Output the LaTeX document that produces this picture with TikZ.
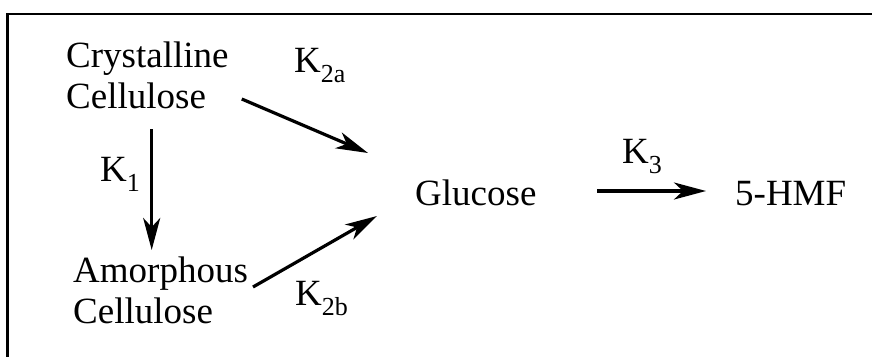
\documentclass[tikz,border=0pt]{standalone}
\usepackage{fontspec}
\setmainfont{Liberation Serif}
\usetikzlibrary{arrows.meta}
\newcommand\ksub[1]{K\raisebox{-0.28em}{\fontsize{26}{26}\selectfont #1}}
\begin{document}
\begin{tikzpicture}[x=1pt,y=-1pt,
  lbl/.style={inner sep=0pt, anchor=base west, font=\fontsize{37}{41}\selectfont, align=left},
  rx/.style={line width=3.2pt, -{Stealth[length=32pt,width=17pt,inset=9pt]}}]
\useasboundingbox (0,0) rectangle (872,356);
\clip (0,0) rectangle (872,356);
\draw[line width=2.7pt] (7.5,14) rectangle (900,400);
\node[lbl] (cryst) at (66,108) {Crystalline\\Cellulose};
\node[lbl] (amorph) at (73,323) {Amorphous\\Cellulose};
\node[lbl] (gluc) at (415,205) {Glucose};
\node[lbl] (hmf) at (735,205) {5-HMF};
\node[lbl] (k2a) at (294,72) {\ksub{2a}};
\node[lbl] (k1) at (100,181) {\ksub{1}};
\node[lbl] (k2b) at (295,305) {\ksub{2b}};
\node[lbl] (k3) at (622,163) {\ksub{3}};
\draw[rx] ([shift={(13,-9)}]cryst.base east) -- ([shift={(-47,-52)}]gluc.base west);
\draw[rx] ([shift={(180,-36)}]amorph.base west) -- ([shift={(-38,11)}]gluc.base west);
\draw[rx] ([shift={(85.7,21)}]cryst.base west) -- ([shift={(78.7,-73)}]amorph.base west);
\draw[rx] ([shift={(182,-14)}]gluc.base west) -- ([shift={(-29,-14)}]hmf.base west);
\end{tikzpicture}
\end{document}
